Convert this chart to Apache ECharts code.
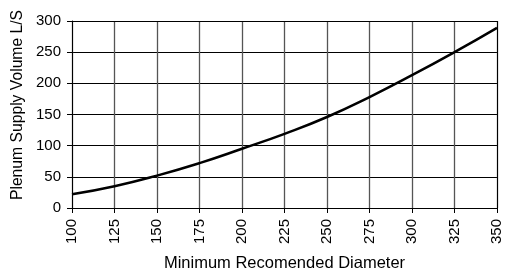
<!doctype html>
<html lang="en">
<head>
<meta charset="UTF-8">
<title>Plenum Supply Volume</title>
<script src="https://cdn.jsdelivr.net/npm/echarts@6/dist/echarts.min.js"></script>
<style>
    html, body { margin: 0; padding: 0; background: #fff; }
    #main { width: 506px; height: 269px; }
</style>
</head>
<body>
<div id="main"></div>
<script>
    // diameter (x) and supply volume (y)
    var diameters = [100, 125, 150, 175, 200, 225, 250, 275, 300, 325, 350];
    var volumes = [22, 35, 52, 72, 95, 119, 146, 178, 213, 250, 289];

    var seriesData = diameters.map(function (d, i) { return [d, volumes[i]]; });

    var myChart = echarts.init(document.getElementById('main'));
    var font = 'Liberation Sans, Arial, sans-serif';
    var option = {
        animation: false,
        grid: { left: 72, right: 9, top: 21, bottom: 61, containLabel: false, outerBoundsMode: 'none' },
        graphic: [{
            // y axis title, sits a bit above the plot centre in the original
            type: 'text',
            x: 18, y: 105,
            rotation: Math.PI / 2,
            style: {
                text: 'Plenum Supply Volume L/S',
                fill: '#000',
                font: '15.7px ' + font,
                textAlign: 'center',
                textVerticalAlign: 'middle'
            }
        }],
        xAxis: {
            type: 'value',
            min: 100, max: 350, interval: 25,
            name: 'Minimum Recomended Diameter',
            nameLocation: 'middle',
            nameGap: 47,
            nameTextStyle: { color: '#000', fontSize: 16.5, fontFamily: font },
            axisLine: { lineStyle: { color: '#000', width: 1 } },
            axisTick: { show: true, length: 5, lineStyle: { color: '#000' } },
            axisLabel: { rotate: 90, color: '#000', fontSize: 15, fontFamily: font, margin: 11 },
            splitLine: { show: true, lineStyle: { color: '#555', width: 1.3 } }
        },
        yAxis: {
            type: 'value',
            min: 0, max: 300, interval: 50,
            axisLine: { show: true, lineStyle: { color: '#000', width: 1 } },
            axisTick: { show: true, length: 5, lineStyle: { color: '#000' } },
            axisLabel: { color: '#000', fontSize: 15, fontFamily: font, margin: 11 },
            splitLine: { show: true, lineStyle: { color: '#000', width: 1 } }
        },
        series: [{
            type: 'line',
            data: seriesData,
            smooth: true,
            symbol: 'none',
            lineStyle: { color: '#000', width: 2.5 }
        }, {
            // right/top border of the plot
            type: 'line',
            data: [],
            markLine: {
                silent: true,
                symbol: 'none',
                label: { show: false },
                lineStyle: { color: '#000', width: 1, type: 'solid' },
                data: [{ xAxis: 350 }, { yAxis: 300 }]
            }
        }]
    };
    myChart.setOption(option);
</script>
</body>
</html>
